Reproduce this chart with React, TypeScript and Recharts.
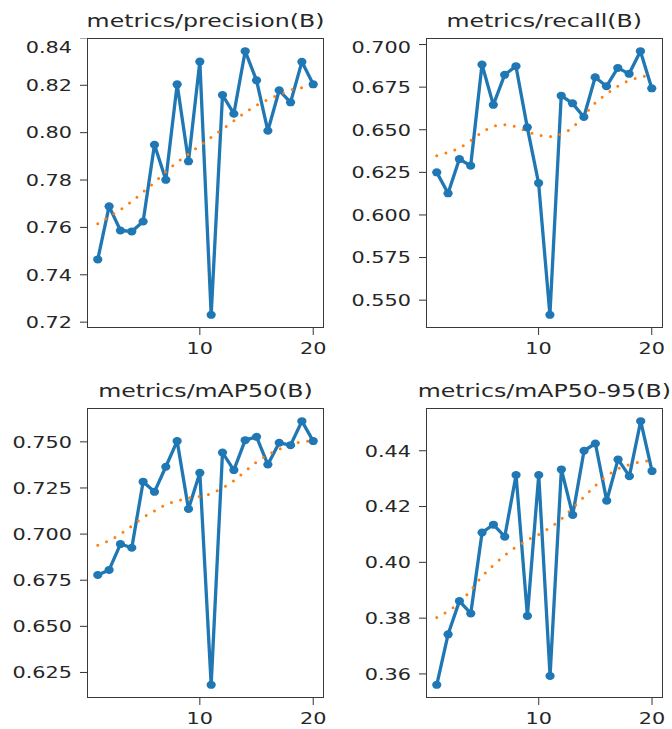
import React from 'react';
import { LineChart, Line, XAxis, YAxis } from 'recharts';

const epochs = [1, 2, 3, 4, 5, 6, 7, 8, 9, 10, 11, 12, 13, 14, 15, 16, 17, 18, 19, 20];
const epochTicks = [10, 20];

const precision = [0.7465, 0.7689, 0.7587, 0.7583, 0.7625, 0.7949, 0.7801, 0.8204, 0.7879, 0.83, 0.7231, 0.8159, 0.808, 0.8344, 0.8221, 0.8008, 0.8179, 0.8128, 0.8299, 0.8204];
const precisionSmooth = [0.7615, 0.7645, 0.7675, 0.771, 0.775, 0.779, 0.7835, 0.7875, 0.791, 0.7945, 0.798, 0.8015, 0.805, 0.8085, 0.8115, 0.814, 0.816, 0.818, 0.819, 0.8197];
const precisionTicks = [0.72, 0.74, 0.76, 0.78, 0.8, 0.82, 0.84];

const recall = [0.625, 0.6127, 0.6328, 0.6289, 0.6883, 0.6646, 0.6822, 0.6873, 0.6514, 0.6187, 0.5414, 0.67, 0.6655, 0.6575, 0.6808, 0.6755, 0.6863, 0.6828, 0.6961, 0.6743];
const recallSmooth = [0.6348, 0.6367, 0.6393, 0.6436, 0.6485, 0.652, 0.653, 0.6518, 0.649, 0.6469, 0.6461, 0.6475, 0.6514, 0.6583, 0.6657, 0.671, 0.6755, 0.6789, 0.6808, 0.6822];
const recallTicks = [0.55, 0.575, 0.6, 0.625, 0.65, 0.675, 0.7];

const map50 = [0.6778, 0.6806, 0.6946, 0.6926, 0.7284, 0.7229, 0.7365, 0.7504, 0.7136, 0.7332, 0.6183, 0.7442, 0.7347, 0.7509, 0.7527, 0.7377, 0.7495, 0.7482, 0.7612, 0.7504];
const map50Smooth = [0.6939, 0.6965, 0.7, 0.7045, 0.709, 0.7125, 0.716, 0.718, 0.7195, 0.7205, 0.722, 0.725, 0.729, 0.734, 0.739, 0.743, 0.746, 0.7485, 0.75, 0.7505];
const map50Ticks = [0.625, 0.65, 0.675, 0.7, 0.725, 0.75];

const map5095 = [0.3561, 0.3742, 0.3861, 0.3817, 0.4107, 0.4135, 0.4092, 0.4313, 0.3808, 0.4313, 0.3593, 0.4333, 0.417, 0.44, 0.4426, 0.4221, 0.4369, 0.4309, 0.4506, 0.4327];
const map5095Smooth = [0.3802, 0.3825, 0.3855, 0.39, 0.395, 0.399, 0.4025, 0.4055, 0.408, 0.41, 0.4125, 0.4155, 0.4195, 0.4235, 0.4275, 0.431, 0.4335, 0.435, 0.436, 0.4365];
const map5095Ticks = [0.36, 0.38, 0.4, 0.42, 0.44];

const FONT = '"DejaVu Sans", sans-serif';
const TEXT = '#262626';
// the reference picture is stretched sideways, so the text is too
const STRETCH = 1.3;
const AXIS_W = 80;
const AXIS_H = 40;
const PLOT_H = 290;
const SPARE = 20; // room for the stretched "20" labels

// matplotlib style 5% margin around the data
const padDomain = (vals: number[]): [number, number] => {
  const lo = Math.min(...vals);
  const hi = Math.max(...vals);
  const m = (hi - lo) * 0.05;
  return [lo - m, hi + m];
};

const YTick = ({ x, y, payload, digits }: any) => (
  <g transform={`translate(${x},${y}) scale(${STRETCH},1)`}>
    <text textAnchor="end" dy="0.36em" fontSize={16} fill={TEXT} fontFamily={FONT}>
      {Number(payload.value).toFixed(digits)}
    </text>
  </g>
);

const XTick = ({ x, y, payload }: any) => (
  <g transform={`translate(${x},${y}) scale(${STRETCH},1)`}>
    <text textAnchor="middle" dy="0.71em" fontSize={16} fill={TEXT} fontFamily={FONT}>
      {payload.value}
    </text>
  </g>
);

const Dot = (p: any) => (
  <ellipse key={p.index} cx={p.cx} cy={p.cy} rx={4.6} ry={4} fill="#1f77b4" />
);

interface PanelProps {
  title: string;
  values: number[];
  smooth: number[];
  ticks: number[];
  digits: number;
  left: number;
  top: number;
  width: number;
}

const Panel: React.FC<PanelProps> = ({ title, values, smooth, ticks, digits, left, top, width }) => {
  const data = epochs.map((e, i) => ({ epoch: e, value: values[i], smooth: smooth[i] }));
  return (
    <>
      <div
        style={{
          position: 'absolute',
          left,
          top: top - 26,
          width,
          textAlign: 'center',
          fontFamily: FONT,
          fontSize: 18.2,
          lineHeight: '18.2px',
          color: TEXT,
          whiteSpace: 'nowrap',
          transform: `scaleX(${STRETCH})`,
        }}
      >
        {title}
      </div>
      <div style={{ position: 'absolute', left: left - AXIS_W, top }}>
        <LineChart
          width={AXIS_W + width + SPARE}
          height={PLOT_H + AXIS_H + SPARE}
          data={data}
          margin={{ top: 0, right: SPARE, left: 0, bottom: SPARE }}
        >
          <XAxis
            dataKey="epoch"
            type="number"
            domain={[0.05, 20.95]}
            ticks={epochTicks}
            height={AXIS_H}
            axisLine={false}
            tickSize={7}
            tickMargin={8}
            tickLine={{ stroke: '#333' }}
            tick={<XTick />}
          />
          <YAxis
            type="number"
            domain={padDomain([...values, ...smooth])}
            ticks={ticks}
            width={AXIS_W}
            axisLine={false}
            tickSize={7}
            tickMargin={8}
            tickLine={{ stroke: '#333' }}
            tick={(props: any) => <YTick {...props} digits={digits} />}
          />
          <Line
            dataKey="value"
            type="linear"
            stroke="#1f77b4"
            strokeWidth={3.3}
            strokeLinejoin="round"
            dot={Dot}
            activeDot={false}
            isAnimationActive={false}
          />
          <Line
            dataKey="smooth"
            type="monotone"
            stroke="#ff7f0e"
            strokeWidth={3}
            strokeDasharray="0 9.5"
            strokeLinecap="round"
            dot={false}
            activeDot={false}
            isAnimationActive={false}
          />
        </LineChart>
      </div>
      <div
        style={{
          position: 'absolute',
          left,
          top,
          width,
          height: PLOT_H,
          border: '1px solid #3a3a3a',
          boxSizing: 'border-box',
          pointerEvents: 'none',
        }}
      />
    </>
  );
};

export default function App() {
  return (
    <div style={{ position: 'absolute', left: 0, top: 0, width: 672, height: 729, background: '#fff', overflow: 'hidden' }}>
      <Panel title="metrics/precision(B)" values={precision} smooth={precisionSmooth} ticks={precisionTicks} digits={2} left={86.5} top={38.3} width={237} />
      <Panel title="metrics/recall(B)" values={recall} smooth={recallSmooth} ticks={recallTicks} digits={3} left={426} top={38.3} width={236.5} />
      <Panel title="metrics/mAP50(B)" values={map50} smooth={map50Smooth} ticks={map50Ticks} digits={3} left={86.5} top={407.5} width={237} />
      <Panel title="metrics/mAP50-95(B)" values={map5095} smooth={map5095Smooth} ticks={map5095Ticks} digits={2} left={426} top={407.5} width={236.8} />
    </div>
  );
}
